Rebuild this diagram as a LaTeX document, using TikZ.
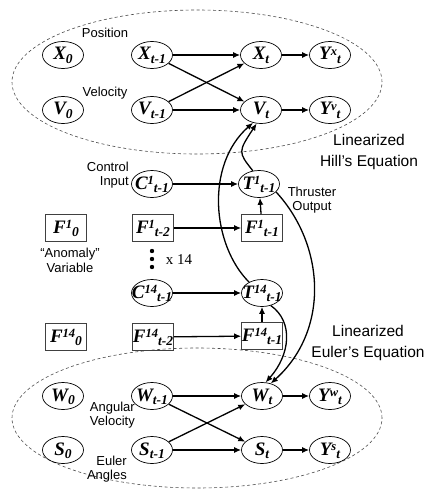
\documentclass[tikz,border=0pt]{standalone}
\usepackage{fontspec}
\setmainfont{Liberation Sans}
\newfontfamily\tnr{Liberation Serif}
\usetikzlibrary{arrows.meta,shapes.geometric}
\newcommand\vlab[3]{\smash{\makebox[0pt]{\raisebox{-5pt}{\tnr\bfseries\itshape\fontsize{19}{19}\selectfont #1\raisebox{4.5pt}{\fontsize{12.5}{12.5}\selectfont #2}\raisebox{-3.5pt}{\fontsize{13.5}{13.5}\selectfont #3}}}}}
\tikzset{
  ev/.style={ellipse, draw, line width=0.7pt, minimum width=41pt, minimum height=27pt, inner sep=0pt},
  fb/.style={rectangle, draw=black!75, line width=0.6pt, minimum width=41pt, minimum height=27pt, inner sep=0pt},
  arr/.style={-{Latex[length=7pt,width=6pt]}, line width=1.3pt},
  lbl/.style={font=\fontsize{13}{14.5}\selectfont, inner sep=0pt},
  big/.style={font=\fontsize{15.5}{21}\selectfont, inner sep=0pt, align=center},
  dsh/.style={draw=black!70, line width=0.6pt, dash pattern=on 3pt off 2.5pt},
  dotn/.style={circle, fill=black, inner sep=0pt, minimum size=4.4pt}
}
\begin{document}
\begin{tikzpicture}[x=1pt,y=-1pt]
\useasboundingbox (0,0) rectangle (427,495);
% dashed ellipses
\draw[dsh] (197,82) ellipse [x radius=185pt, y radius=72pt];
\draw[dsh] (197,418) ellipse [x radius=185pt, y radius=70pt];
% top rows
\node[ev] (X0) at (63,55) {\vlab{X}{}{0}};
\node[ev] (Xm) at (152,55) {\vlab{X}{}{t-1}};
\node[ev] (Xt) at (261,55) {\vlab{X}{}{t}};
\node[ev] (Yx) at (330,55) {\vlab{Y}{x}{t}};
\node[ev] (V0) at (63,110) {\vlab{V}{}{0}};
\node[ev] (Vm) at (152,110) {\vlab{V}{}{t-1}};
\node[ev] (Vt) at (261,110) {\vlab{V}{}{t}};
\node[ev] (Yv) at (330,110) {\vlab{Y}{v}{t}};
% control 1
\node[ev] (C1) at (152,184) {\vlab{C}{1}{t-1}};
\node[ev] (T1) at (259,184) {\vlab{T}{1}{t-1}};
\node[fb] (F10) at (66,228) {\vlab{F}{1}{0}};
\node[fb] (F1m) at (153,228) {\vlab{F}{1}{t-2}};
\node[fb] (F1t) at (262,228) {\vlab{F}{1}{t-1}};
% dots
\node[dotn] (d1) at (152,251) {};
\node[dotn] (d2) at (152,259) {};
\node[dotn] (d3) at (152,267) {};
\node[inner sep=0pt, font=\tnr\fontsize{15}{15}\selectfont] (x14) at (179,260) {x 14};
% control 14
\node[ev] (C14) at (152,293) {\vlab{C}{14}{t-1}};
\node[ev] (T14) at (262,293) {\vlab{T}{14}{t-1}};
\node[fb] (F140) at (66,337) {\vlab{F}{14}{0}};
\node[fb] (F14m) at (153,337) {\vlab{F}{14}{t-2}};
\node[fb] (F14t) at (262,336) {\vlab{F}{14}{t-1}};
% bottom rows
\node[ev] (W0) at (63,396) {\vlab{W}{}{0}};
\node[ev] (Wm) at (152,396) {\vlab{W}{}{t-1}};
\node[ev] (Wt) at (262,396) {\vlab{W}{}{t}};
\node[ev] (Yw) at (330,396) {\vlab{Y}{w}{t}};
\node[ev] (S0) at (63,450) {\vlab{S}{}{0}};
\node[ev] (Sm) at (152,450) {\vlab{S}{}{t-1}};
\node[ev] (St) at (262,450) {\vlab{S}{}{t}};
\node[ev] (Ys) at (330,450) {\vlab{Y}{s}{t}};
% labels
\node[lbl] (lpos) at (105,33) {Position};
\node[lbl] (lvel) at (105,93) {Velocity};
\node[lbl, align=right, anchor=east] (lci) at (129,175) {Control\\Input};
\node[lbl, align=center] (lto) at (312,200) {Thruster\\Output};
\node[lbl, align=center, font=\fontsize{13}{15}\selectfont] (lan) at (70,260) {“Anomaly”\\Variable};
\node[big] (lhill) at (369,152) {Linearized\\Hill’s Equation};
\node[big] (leul) at (368,343) {Linearized\\Euler’s Equation};
\node[lbl, align=right, anchor=east, font=\fontsize{13}{13.5}\selectfont] (lav) at (135,415) {Angular\\Velocity};
\node[lbl, align=right, anchor=east, font=\fontsize{13}{14}\selectfont] (lea) at (127,469) {Euler\\Angles};
% arrows top
\draw[arr] (Xm) -- (Xt);
\draw[arr] (Xm) -- (Vt);
\draw[arr] (Vm) -- (Xt);
\draw[arr] (Vm) -- (Vt);
\draw[arr] (Xt) -- (Yx);
\draw[arr] (Vt) -- (Yv);
% control arrows
\draw[arr] (C1) -- (T1);
\draw[arr] (F1m) -- (F1t);
\draw[arr] (F1t) -- (T1);
\draw[arr] (C14) -- (T14);
\draw[arr] (F14m) -- (F14t);
\draw[arr] (F14t) -- (T14);
% curves
\draw[arr] (T1.115) .. controls (238,152) .. (Vt.252);
\draw[arr] (T14.140) .. controls (212,245) and (205,165) .. (Vt.238);
\draw[arr] (T1.-25) .. controls (325,245) and (330,330) .. (Wt.55);
\draw[arr] (T14.-55) .. controls (294,322) and (290,355) .. (Wt.75);
% bottom arrows
\draw[arr] (Wm) -- (Wt);
\draw[arr] (Wm) -- (St);
\draw[arr] (Sm) -- (Wt);
\draw[arr] (Sm) -- (St);
\draw[arr] (Wt) -- (Yw);
\draw[arr] (St) -- (Ys);
\end{tikzpicture}
\end{document}
